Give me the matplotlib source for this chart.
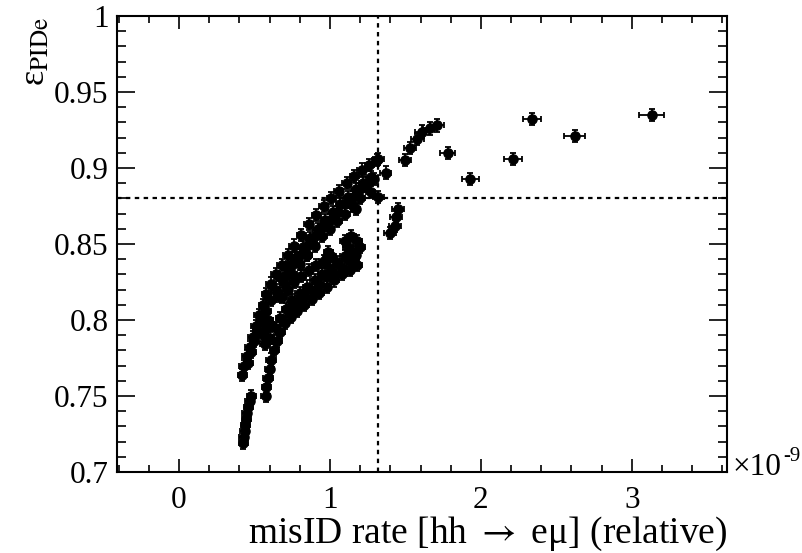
"""PID efficiency vs. relative misID rate, ROOT-like look (Times face,
ticks inside on all four sides, black points with x/y error bars)."""
import matplotlib
matplotlib.use("Agg")
import matplotlib.pyplot as plt
from matplotlib.ticker import MultipleLocator, FuncFormatter

INK = "#000000"
SERIF = ["Liberation Serif", "DejaVu Serif"]

# --- data (x in units of 1e-9) ---------------------------------------------
# upper / left band
band_a_x = [0.42, 0.43, 0.45, 0.47, 0.49, 0.51, 0.53, 0.56, 0.58, 0.61, 0.64, 0.68, 0.72,
            0.76, 0.81, 0.86, 0.91, 0.96, 1.01, 1.06, 1.11, 1.16, 1.21, 1.26, 1.31,
            0.46, 0.48, 0.50, 0.52, 0.55, 0.58, 0.61, 0.64, 0.68, 0.72, 0.77, 0.82, 0.87,
            0.92, 0.97, 1.02, 1.07, 1.12, 1.17, 1.22, 1.27,
            0.70, 0.75, 0.80, 0.85, 0.90, 0.95, 1.00, 1.05, 1.10, 1.15, 1.20, 1.25,
            0.66, 0.70, 0.75, 0.80, 0.85, 0.90, 0.95, 1.00, 1.05, 1.10, 1.15, 1.20]
band_a_y = [0.764, 0.770, 0.776, 0.782, 0.789, 0.796, 0.803, 0.810, 0.817, 0.824, 0.830, 0.836, 0.843,
            0.849, 0.856, 0.863, 0.869, 0.875, 0.880, 0.885, 0.890, 0.895, 0.899, 0.902, 0.905,
            0.772, 0.779, 0.786, 0.793, 0.800, 0.806, 0.813, 0.820, 0.827, 0.834, 0.841, 0.848, 0.854,
            0.860, 0.866, 0.871, 0.876, 0.881, 0.886, 0.890, 0.894,
            0.829, 0.836, 0.843, 0.849, 0.855, 0.861, 0.866, 0.871, 0.876, 0.881, 0.886, 0.890,
            0.816, 0.823, 0.830, 0.837, 0.843, 0.849, 0.855, 0.860, 0.865, 0.870, 0.875, 0.880]

# small blob just under the band, around x~0.58
blob_x = [0.56, 0.58, 0.60, 0.57, 0.61, 0.59]
blob_y = [0.790, 0.795, 0.788, 0.784, 0.797, 0.800]

# middle band (steep start, then wide body)
band_b_x = [0.575, 0.58, 0.59, 0.60, 0.61, 0.63, 0.65, 0.67, 0.70,
            0.74, 0.78, 0.83, 0.88, 0.93, 0.98, 1.03, 1.08, 1.13, 1.18,
            0.73, 0.78, 0.83, 0.88, 0.93, 0.98, 1.03, 1.08, 1.13, 1.17,
            0.64, 0.67, 0.71, 0.75, 0.80, 0.85, 0.90, 0.95, 1.00, 1.05, 1.10, 1.15, 1.20,
            0.68, 0.72, 0.76, 0.81, 0.86, 0.91, 0.96, 1.01,
            1.10, 1.14, 1.18, 1.12, 1.16]
band_b_y = [0.750, 0.756, 0.762, 0.768, 0.774, 0.780, 0.786, 0.792, 0.798,
            0.802, 0.806, 0.810, 0.814, 0.818, 0.822, 0.826, 0.830, 0.833, 0.836,
            0.808, 0.812, 0.816, 0.820, 0.824, 0.828, 0.831, 0.835, 0.839, 0.843,
            0.795, 0.801, 0.807, 0.813, 0.818, 0.822, 0.826, 0.830, 0.834, 0.838, 0.842, 0.845, 0.848,
            0.815, 0.820, 0.825, 0.829, 0.833, 0.836, 0.839, 0.842,
            0.852, 0.855, 0.852, 0.848, 0.841]

# lowest streak
band_c_x = [0.425, 0.43, 0.435, 0.44, 0.445, 0.45, 0.46, 0.47, 0.48]
band_c_y = [0.719, 0.723, 0.727, 0.731, 0.735, 0.739, 0.743, 0.747, 0.750]

# loose points between the bands
loose_x = [0.99, 0.85, 1.17, 1.24, 1.27, 0.97, 1.29]
loose_y = [0.845, 0.843, 0.873, 0.888, 0.884, 0.838, 0.893]

# sparse high-rate points, wider x errors
sparse_x = [1.32, 1.32, 1.37, 1.40, 1.43, 1.44, 1.45, 1.50, 1.53, 1.58, 1.61, 1.66, 1.71,
            1.78, 1.93, 2.21, 2.34, 2.62, 3.13]
sparse_y = [0.906, 0.881, 0.897, 0.857, 0.862, 0.868, 0.873, 0.905, 0.913, 0.919, 0.924, 0.926, 0.928,
            0.910, 0.893, 0.906, 0.932, 0.921, 0.935]
sparse_xerr = [0.035, 0.035, 0.035, 0.04, 0.04, 0.04, 0.04, 0.04, 0.04, 0.04, 0.045, 0.045, 0.045,
               0.05, 0.055, 0.06, 0.06, 0.07, 0.08]

dense_xerr = 0.03
yerr = 0.004

cut_x = 1.32
cut_y = 0.88

plt.rcParams.update({
    "font.family": SERIF,
    "mathtext.fontset": "stix",
    "axes.linewidth": 1.5,
    "xtick.direction": "in",
    "ytick.direction": "in",
    "xtick.top": True,
    "ytick.right": True,
})

fig = plt.figure(figsize=(8.02, 5.53), dpi=100)
ax = fig.add_axes([0.1459, 0.1465, 0.9065 - 0.1459, 0.9711 - 0.1465])

point_style = dict(fmt="o", color=INK, ms=6.6, elinewidth=1.3, capsize=2.5, capthick=1.3)
for xs, ys in [(band_a_x, band_a_y), (blob_x, blob_y), (band_b_x, band_b_y),
               (band_c_x, band_c_y), (loose_x, loose_y)]:
    ax.errorbar(xs, ys, xerr=dense_xerr, yerr=yerr, **point_style)
ax.errorbar(sparse_x, sparse_y, xerr=sparse_xerr, yerr=yerr, **point_style)

ax.axvline(cut_x, color=INK, lw=1.6, ls=(0, (2, 2)))
ax.axhline(cut_y, color=INK, lw=1.6, ls=(0, (2, 2)))

ax.set_xlim(-0.41, 3.63)
ax.set_ylim(0.7, 1.0)
ax.xaxis.set_major_locator(MultipleLocator(1))
ax.xaxis.set_minor_locator(MultipleLocator(0.2))
ax.yaxis.set_major_locator(MultipleLocator(0.05))
ax.yaxis.set_minor_locator(MultipleLocator(0.01))
ax.yaxis.set_major_formatter(FuncFormatter(lambda v, _: f"{v:g}"))
ax.xaxis.set_major_formatter(FuncFormatter(lambda v, _: f"{v:g}"))
ax.tick_params(axis="x", which="major", length=9.5, width=1.2, labelsize=22.5, pad=10)
ax.tick_params(axis="x", which="minor", length=5, width=1.2)
ax.tick_params(axis="y", which="major", length=13, width=1.2, labelsize=22.5, pad=6)
ax.tick_params(axis="y", which="minor", length=6.5, width=1.2)

ax.set_xlabel("misID rate [hh $\\rightarrow$ e\u03bc] (relative)",
              fontsize=27, ha="right", x=1.0, labelpad=0)
fig.text(0.044, 0.97, "\u03b5$_{\\mathrm{PIDe}}$", rotation=90, fontsize=26,
         ha="center", va="top")

# ROOT-style axis exponent: "x10" plus a separate raised "-9"
fig.text(0.913, 0.141, "\u00d710", fontsize=22.5, ha="left", va="baseline")
fig.text(0.976, 0.166, "-9", fontsize=15, ha="left", va="baseline")

fig.savefig("out.png", dpi=100)
